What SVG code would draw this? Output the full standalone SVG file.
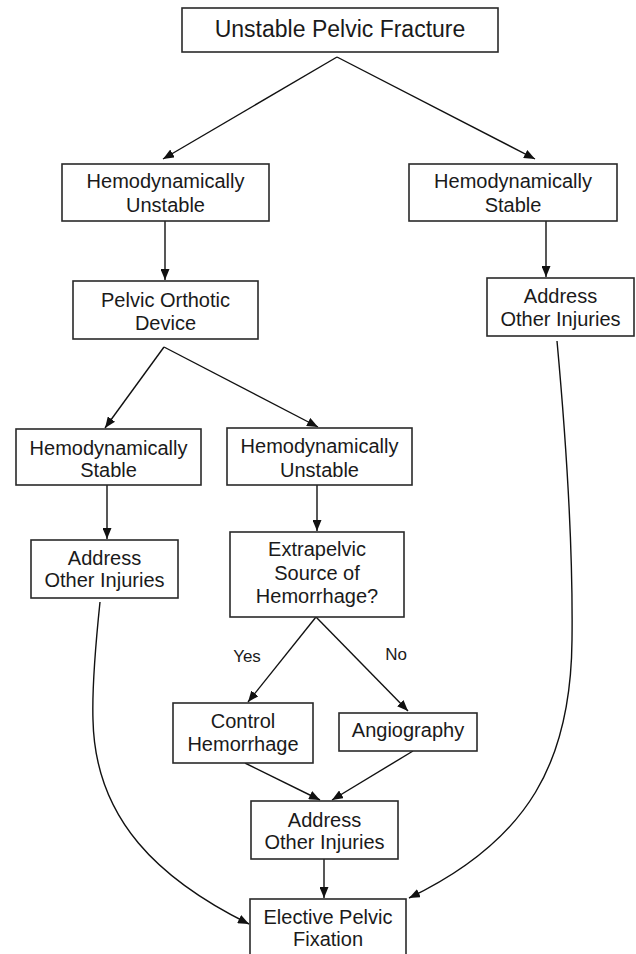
<svg xmlns="http://www.w3.org/2000/svg" width="636" height="954" viewBox="0 0 636 954">
<defs>
<marker id="ah" markerUnits="userSpaceOnUse" markerWidth="11" markerHeight="9" refX="11" refY="4.5" orient="auto">
<path d="M0,0 L11,4.5 L0,9 z" fill="#111"/>
</marker>
<style>
.box{fill:#fff;stroke:#2a2a2a;stroke-width:1.6}
.t{font-family:"Liberation Sans",Arial,sans-serif;font-size:20px;fill:#1a1a1a;text-anchor:middle}
.big{font-size:23px}
.lbl{font-size:17px}
.c{fill:none;stroke:#111;stroke-width:1.4;marker-end:url(#ah)}
</style>
</defs>
<rect width="636" height="954" fill="#fff"/>
<g id="connectors">
<line class="c" x1="337" y1="57" x2="163" y2="159"/>
<line class="c" x1="337" y1="57" x2="535" y2="159"/>
<line class="c" x1="165" y1="221" x2="165" y2="280"/>
<line class="c" x1="546" y1="221" x2="546" y2="277"/>
<line class="c" x1="164" y1="347" x2="105" y2="428"/>
<line class="c" x1="164" y1="347" x2="318" y2="427"/>
<line class="c" x1="107" y1="485" x2="107" y2="539"/>
<line class="c" x1="317" y1="485" x2="317" y2="531"/>
<line class="c" x1="316" y1="617" x2="248" y2="702"/>
<line class="c" x1="316" y1="617" x2="408" y2="711"/>
<line class="c" x1="245" y1="763" x2="320" y2="800"/>
<line class="c" x1="413" y1="751" x2="332" y2="800"/>
<line class="c" x1="324" y1="859" x2="324" y2="898"/>
<path class="c" d="M100,602 C95,650 92,690 93,720 C95,820 160,880 249,924"/>
<path class="c" d="M557,341 C567,450 573,560 572,640 C571,760 530,840 409,898"/>
<text class="t lbl" x="247" y="662">Yes</text>
<text class="t lbl" x="396" y="660">No</text>
</g>
<g id="n1"><rect class="box" x="182" y="8" width="316" height="44"/><text class="t big" x="340" y="37">Unstable Pelvic Fracture</text></g>
<g id="n2"><rect class="box" x="62" y="164" width="207" height="57"/><text class="t" x="165.5" y="188">Hemodynamically</text><text class="t" x="165.5" y="212">Unstable</text></g>
<g id="n3"><rect class="box" x="409" y="164" width="208" height="57"/><text class="t" x="513" y="188">Hemodynamically</text><text class="t" x="513" y="212">Stable</text></g>
<g id="n4"><rect class="box" x="73" y="281" width="185" height="58"/><text class="t" x="165.5" y="307">Pelvic Orthotic</text><text class="t" x="165.5" y="330">Device</text></g>
<g id="n5"><rect class="box" x="487" y="278" width="147" height="58"/><text class="t" x="560.5" y="303">Address</text><text class="t" x="560.5" y="326">Other Injuries</text></g>
<g id="n6"><rect class="box" x="16" y="429" width="185" height="56"/><text class="t" x="108.5" y="455">Hemodynamically</text><text class="t" x="108.5" y="477">Stable</text></g>
<g id="n7"><rect class="box" x="227" y="428" width="185" height="57"/><text class="t" x="319.5" y="453">Hemodynamically</text><text class="t" x="319.5" y="477">Unstable</text></g>
<g id="n8"><rect class="box" x="31" y="540" width="147" height="58"/><text class="t" x="104.5" y="565">Address</text><text class="t" x="104.5" y="587">Other Injuries</text></g>
<g id="n9"><rect class="box" x="230" y="532" width="174" height="85"/><text class="t" x="317" y="556">Extrapelvic</text><text class="t" x="317" y="580">Source of</text><text class="t" x="317" y="603">Hemorrhage?</text></g>
<g id="n10"><rect class="box" x="173" y="703" width="140" height="60"/><text class="t" x="243" y="728">Control</text><text class="t" x="243" y="751">Hemorrhage</text></g>
<g id="n11"><rect class="box" x="339" y="713" width="138" height="38"/><text class="t" x="408" y="737">Angiography</text></g>
<g id="n12"><rect class="box" x="251" y="801" width="147" height="58"/><text class="t" x="324.5" y="827">Address</text><text class="t" x="324.5" y="849">Other Injuries</text></g>
<g id="n13"><rect class="box" x="250" y="899" width="156" height="70"/><text class="t" x="328" y="924">Elective Pelvic</text><text class="t" x="328" y="946">Fixation</text></g>
</svg>
